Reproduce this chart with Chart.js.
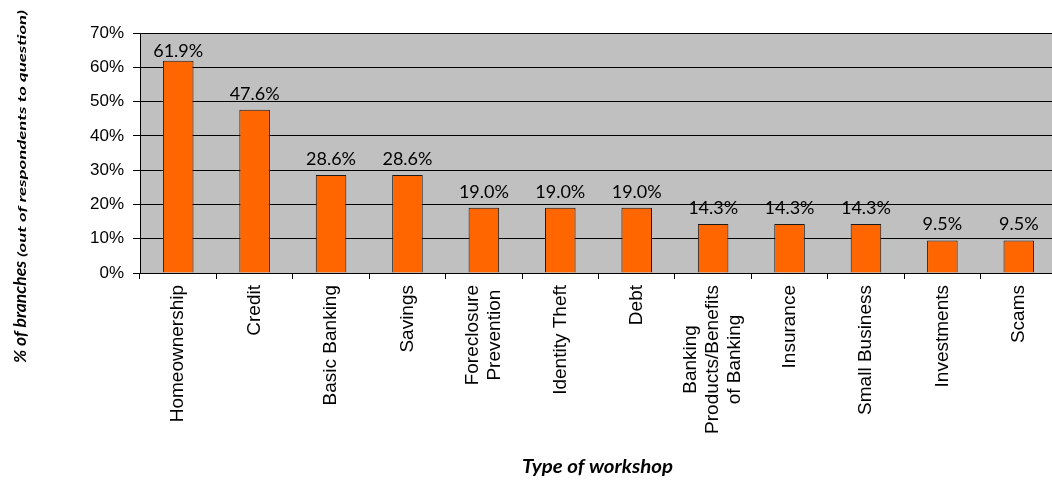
<!DOCTYPE html>
<html lang="en">
<head>
    <meta charset="UTF-8">
    <title>Type of workshop</title>
    <script src="https://cdn.jsdelivr.net/npm/chart.js"></script>
    <style>
        html, body { margin: 0; padding: 0; background: #fff; overflow: hidden; }
        /* plot runs slightly past the right edge, like the original */
        #wrap { width: 1057px; height: 481px; position: relative; }
    </style>
</head>
<body>
    <div id="wrap"><canvas id="workshopChart"></canvas></div>

    <script>
        // Workshop categories (multi-line ones as arrays)
        const workshops = [
            'Homeownership', 'Credit', 'Basic Banking', 'Savings',
            ['Foreclosure', 'Prevention'], 'Identity Theft', 'Debt',
            ['Banking', 'Products/Benefits', 'of Banking'],
            'Insurance', 'Small Business', 'Investments', 'Scams'
        ];
        const branchPct = [61.9, 47.6, 28.6, 28.6, 19.0, 19.0, 19.0, 14.3, 14.3, 14.3, 9.5, 9.5];
        const yTicks = [0, 10, 20, 30, 40, 50, 60, 70];

        const yTitleMain = '% of branches ';
        const yTitleSub = '(out of respondents to question)';
        const xTitle = 'Type of workshop';

        // gray plot background
        const plotBg = {
            id: 'plotBg',
            beforeDraw(chart) {
                const a = chart.chartArea;
                const ctx = chart.ctx;
                ctx.save();
                ctx.fillStyle = '#C0C0C0';
                ctx.fillRect(a.left, a.top, a.right - a.left, a.bottom - a.top);
                ctx.restore();
            }
        };

        // draw text squeezed/stretched to a given length (left aligned)
        function fitText(ctx, text, x, y, len) {
            const w = ctx.measureText(text).width;
            ctx.save();
            ctx.textAlign = 'left';
            ctx.translate(x, y);
            ctx.scale(len / w, 1);
            ctx.fillText(text, 0, 0);
            ctx.restore();
        }

        // value labels, category labels and axis titles
        const textLayer = {
            id: 'textLayer',
            afterDatasetsDraw(chart) {
                const ctx = chart.ctx;
                const meta = chart.getDatasetMeta(0);
                ctx.save();
                ctx.fillStyle = '#000';
                ctx.font = '18px Lato';
                ctx.textAlign = 'center';
                ctx.textBaseline = 'alphabetic';
                meta.data.forEach((bar, i) => {
                    ctx.fillText(branchPct[i].toFixed(1) + '%', bar.x, Math.max(bar.y - 10, 57));
                });
                ctx.restore();
            },
            afterDraw(chart) {
                const ctx = chart.ctx;
                const xs = chart.scales.x;
                const top = chart.chartArea.bottom + 12;
                const lh = 22;
                ctx.save();
                ctx.fillStyle = '#000';
                ctx.font = '19px "Liberation Sans", Arial';
                ctx.textAlign = 'center';
                ctx.textBaseline = 'middle';
                workshops.forEach((lab, i) => {
                    const lines = Array.isArray(lab) ? lab : [lab];
                    const w = Math.max(...lines.map(l => ctx.measureText(l).width));
                    const x = xs.getPixelForValue(i);
                    ctx.save();
                    ctx.translate(x, top);
                    ctx.rotate(-Math.PI / 2);
                    lines.forEach((l, j) => {
                        ctx.fillText(l, -w / 2, (j - (lines.length - 1) / 2) * lh);
                    });
                    ctx.restore();
                });

                // x title
                ctx.font = 'italic bold 18px Lato';
                ctx.textBaseline = 'alphabetic';
                fitText(ctx, xTitle, 522, 473, 151);

                // y title, two sizes, reading upwards
                ctx.save();
                ctx.translate(26, 0);
                ctx.rotate(-Math.PI / 2);
                ctx.font = 'italic bold 17px Lato';
                fitText(ctx, yTitleMain, -363, 0, 106);
                ctx.font = 'italic bold 12px Lato';
                fitText(ctx, yTitleSub, -257, 0, 247);
                ctx.restore();
                ctx.restore();
            }
        };

        const ctx = document.getElementById('workshopChart').getContext('2d');
        const workshopChart = new Chart(ctx, {
            type: 'bar',
            data: {
                labels: workshops,
                datasets: [{
                    data: branchPct,
                    backgroundColor: '#FF6600',
                    borderColor: '#1a1a1a',
                    borderWidth: 1,
                    categoryPercentage: 1.0,
                    barPercentage: 0.40
                }]
            },
            options: {
                responsive: true,
                maintainAspectRatio: false,
                animation: false,
                layout: { padding: { top: 33, right: 0, bottom: 0, left: 0 } },
                plugins: {
                    legend: { display: false },
                    tooltip: { enabled: false }
                },
                scales: {
                    x: {
                        grid: {
                            offset: true,
                            drawOnChartArea: false,
                            drawTicks: true,
                            tickLength: 6,
                            color: '#000'
                        },
                        border: { display: true, color: '#000', width: 1 },
                        ticks: { display: false },
                        afterFit(scale) { scale.height = 208; }
                    },
                    y: {
                        min: 0,
                        max: 70,
                        afterBuildTicks(scale) {
                            scale.ticks = yTicks.map(v => ({ value: v }));
                        },
                        grid: {
                            color: '#000',
                            lineWidth: 1,
                            drawTicks: true,
                            tickLength: 7
                        },
                        border: { display: true, color: '#000', width: 1 },
                        ticks: {
                            padding: 9,
                            color: '#000',
                            font: { family: '"Liberation Sans", Arial', size: 17 },
                            callback: v => v + '%'
                        },
                        afterFit(scale) { scale.width = 140; }
                    }
                }
            },
            plugins: [plotBg, textLayer]
        });
    </script>
</body>
</html>
